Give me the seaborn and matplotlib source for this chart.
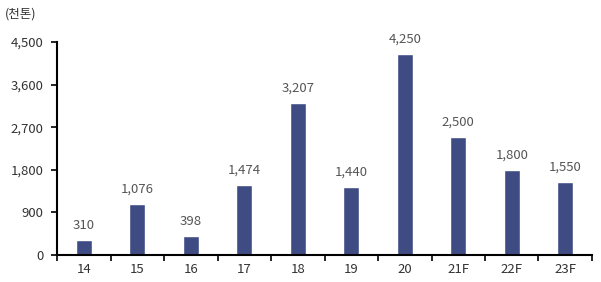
import matplotlib
matplotlib.use("Agg")
import matplotlib.pyplot as plt
import seaborn as sns
import pandas as pd
import numpy as np

categories = ["14", "15", "16", "17", "18", "19", "20", "21F", "22F", "23F"]
values = [310, 1076, 398, 1474, 3207, 1440, 4250, 2500, 1800, 1550]
y_ticks = [0, 900, 1800, 2700, 3600, 4500]
unit_label = "(천톤)"

sns.set_theme(style="white")
plt.rcParams['font.family'] = ['Noto Sans CJK KR', 'DejaVu Sans']

df = pd.DataFrame({"year": categories, "value": values})

fig = plt.figure(figsize=(6.01, 2.82), dpi=100)
ax = fig.add_axes([0.095, 0.096, 0.89, 0.755])
sns.barplot(data=df, x="year", y="value", color="#3F4C84", width=0.3,
            saturation=1, ax=ax)

ax.set_ylim(0, 4500)
ax.set_xlim(-0.5, len(categories) - 0.5)
ax.set_yticks(y_ticks)
ax.set_yticklabels([f"{v:,}" for v in y_ticks], color="#333333", fontsize=9.5)
ax.set_xticks(range(len(categories)))
ax.set_xticklabels(categories, color="#333333", fontsize=9.5)
ax.set_xticks(np.arange(-0.5, len(categories)), minor=True)
ax.tick_params(axis="x", which="major", length=0, pad=6)
ax.tick_params(axis="x", which="minor", length=4, width=1.2, color="black", direction="out", bottom=True)
ax.tick_params(axis="y", which="major", length=4, width=1.2, color="black", direction="out", left=True, pad=6)
ax.set_xlabel("")
ax.set_ylabel("")
for s in ["top", "right"]:
    ax.spines[s].set_visible(False)
for s in ["left", "bottom"]:
    ax.spines[s].set_color("black")
    ax.spines[s].set_linewidth(1.5)

for i, v in enumerate(values):
    ax.annotate(f"{v:,}", (i, v), xytext=(0, 6), textcoords="offset points",
                ha="center", va="bottom", fontsize=9.5, color="#555555")

fig.text(0.008, 0.95, unit_label, fontsize=9, color="#333333", ha="left", va="center")

fig.savefig("out.png", dpi=100)
